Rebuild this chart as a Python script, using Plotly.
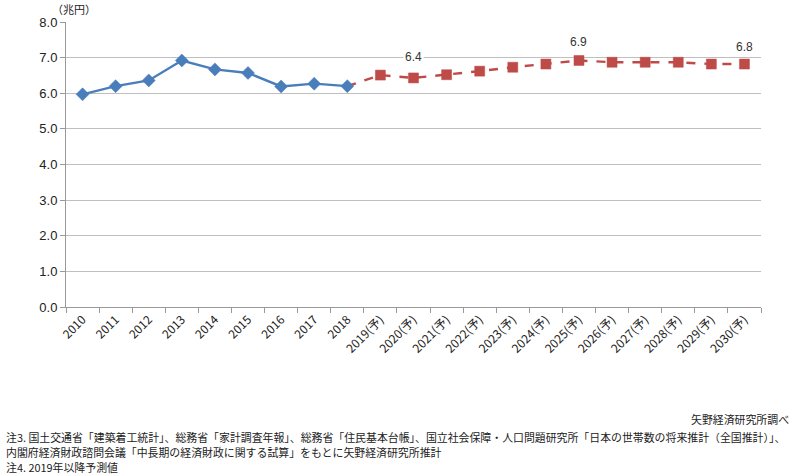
import plotly.graph_objects as go

categories = ["2010", "2011", "2012", "2013", "2014", "2015", "2016", "2017", "2018",
              "2019(予)", "2020(予)", "2021(予)", "2022(予)", "2023(予)", "2024(予)",
              "2025(予)", "2026(予)", "2027(予)", "2028(予)", "2029(予)", "2030(予)"]
actual_cats = categories[:9]
actual_vals = [5.97, 6.20, 6.36, 6.92, 6.67, 6.57, 6.19, 6.27, 6.20]
forecast_cats = categories[8:]
forecast_vals = [6.20, 6.51, 6.43, 6.52, 6.62, 6.73, 6.82, 6.92, 6.87, 6.87, 6.87, 6.82, 6.82]
label_cats = ["2020(予)", "2025(予)", "2030(予)"]
label_vals = [6.43, 6.92, 6.82]
label_texts = ["6.4", "6.9", "6.8"]
y_ticks = [0, 1, 2, 3, 4, 5, 6, 7, 8]

FONT = "Noto Sans CJK JP"
L, R, T, B = 66, 37, 22, 169
W, H = 798, 476
PW, PH = W - L - R, H - T - B


def px_to_paper(xp, yp):
    return (xp - L) / PW, (H - B - yp) / PH


RED = "#BE4B48"
BLUE = "#4A7EBB"

fig = go.Figure()
fig.add_trace(go.Scatter(
    x=forecast_cats, y=forecast_vals, mode="lines+markers",
    line=dict(color=RED, width=2.4, dash="dash"),
    marker=dict(symbol="square", size=[0] + [10] * (len(forecast_vals) - 1), color=RED,
                opacity=1, line=dict(color=RED, width=0.5)),
    hoverinfo="skip", showlegend=False))
fig.add_trace(go.Scatter(
    x=actual_cats, y=actual_vals, mode="lines+markers",
    line=dict(color=BLUE, width=2.4),
    marker=dict(symbol="diamond", size=10, color=BLUE, opacity=1,
                line=dict(color=BLUE, width=0.5)),
    hoverinfo="skip", showlegend=False))

offsets = [21, 18, 17]
for c, v, t, o in zip(label_cats, label_vals, label_texts, offsets):
    fig.add_annotation(x=c, y=v, text=t, showarrow=False, yshift=o,
                       bgcolor="white", borderpad=1,
                       font=dict(size=12, color="#333333", family="Liberation Sans"))

xa, ya = px_to_paper(50, 9)
fig.add_annotation(xref="paper", yref="paper", x=xa, y=ya, xanchor="left", yanchor="middle",
                   text="（兆円）", showarrow=False,
                   font=dict(size=11, color="#222222", family=FONT))

notes = [
    ("矢野経済研究所調べ", 419, "right", 791),
    ("注3. 国土交通省「建築着工統計」、総務省「家計調査年報」、総務省「住民基本台帳」、国立社会保障・人口問題研究所「日本の世帯数の将来推計（全国推計）」、", 437, "left", 4),
    ("内閣府経済財政諮問会議「中長期の経済財政に関する試算」をもとに矢野経済研究所推計", 452, "left", 4),
    ("注4. 2019年以降予測値", 467, "left", 4),
]
for t, ypix, anc, xpix in notes:
    xp, yp = px_to_paper(xpix, ypix)
    fig.add_annotation(xref="paper", yref="paper", x=xp, y=yp,
                       text=t, showarrow=False, xanchor=anc, yanchor="middle",
                       font=dict(size=10.9, color="#222222", family=FONT))

fig.update_layout(
    width=W, height=H,
    margin=dict(l=L, r=R, t=T, b=B),
    paper_bgcolor="white", plot_bgcolor="white",
    font=dict(family=FONT, color="#222222"),
    hovermode=False,
    xaxis=dict(type="category", categoryorder="array", categoryarray=categories,
               tickangle=-45, tickson="boundaries", ticks="outside", ticklen=5,
               tickcolor="#999999", showline=True, linecolor="#999999", linewidth=1,
               showgrid=False, tickfont=dict(size=12, family=FONT, color="#222222"),
               range=[-0.5, len(categories) - 0.5]),
    yaxis=dict(range=[0, 8], tickvals=y_ticks, ticktext=[f"{v:.1f}" for v in y_ticks],
               showgrid=True, gridcolor="#BFBFBF", gridwidth=1, zeroline=False,
               showline=True, linecolor="#999999", linewidth=1, ticks="outside",
               ticklen=5, tickcolor="#999999",
               tickfont=dict(size=13, family="Liberation Sans", color="#222222")),
)

fig.write_html("out.html", config={"displayModeBar": False, "staticPlot": True},
               post_script="document.body.style.margin='0';document.body.style.overflow='hidden';")
